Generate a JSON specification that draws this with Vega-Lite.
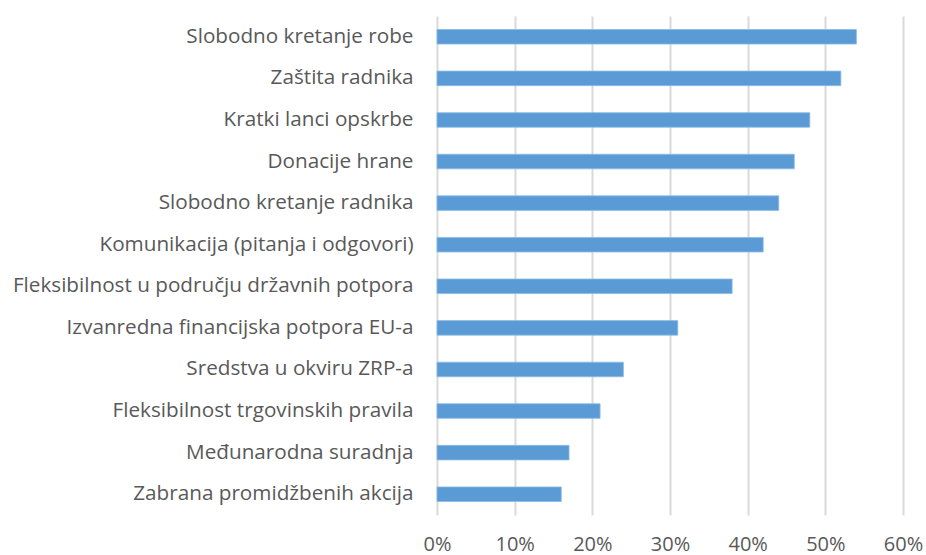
{
  "$schema": "https://vega.github.io/schema/vega-lite/v6.json",
  "width": 466,
  "height": 499,
  "autosize": {"type": "none"},
  "padding": {"left": 437, "top": 16, "right": 23, "bottom": 40},
  "background": "white",
  "data": {
    "values": [
      {"kategorija": "Slobodno kretanje robe", "udio": 0.54},
      {"kategorija": "Zaštita radnika", "udio": 0.52},
      {"kategorija": "Kratki lanci opskrbe", "udio": 0.48},
      {"kategorija": "Donacije hrane ", "udio": 0.46},
      {"kategorija": "Slobodno kretanje radnika", "udio": 0.44},
      {"kategorija": "Komunikacija (pitanja i odgovori)", "udio": 0.42},
      {"kategorija": "Fleksibilnost u području državnih potpora", "udio": 0.38},
      {"kategorija": "Izvanredna financijska potpora EU-a", "udio": 0.31},
      {"kategorija": "Sredstva u okviru ZRP-a", "udio": 0.24},
      {"kategorija": "Fleksibilnost trgovinskih pravila", "udio": 0.21},
      {"kategorija": "Međunarodna suradnja", "udio": 0.17},
      {"kategorija": "Zabrana promidžbenih akcija", "udio": 0.16}
    ]
  },
  "config": {
    "view": {"stroke": null},
    "font": "Open Sans"
  },
  "mark": {"type": "bar", "color": "#5b9bd5", "stroke": "#8cbbe6", "strokeWidth": 0.8},
  "encoding": {
    "y": {
      "field": "kategorija",
      "type": "nominal",
      "sort": null,
      "scale": {"paddingInner": 0.65, "paddingOuter": 0.325},
      "axis": {
        "title": null,
        "ticks": false,
        "domain": false,
        "labelFont": "Open Sans",
        "labelFontSize": 20.7,
        "labelColor": "#595959",
        "labelPadding": 24,
        "labelLimit": 500
      }
    },
    "x": {
      "field": "udio",
      "type": "quantitative",
      "scale": {"domain": [0, 0.6], "nice": false},
      "axis": {
        "title": null,
        "format": ".0%",
        "values": [0, 0.1, 0.2, 0.3, 0.4, 0.5, 0.6],
        "ticks": false,
        "domain": false,
        "grid": true,
        "gridColor": "#d9d9d9",
        "gridWidth": 2,
        "labelFont": "Open Sans",
        "labelFontSize": 20,
        "labelColor": "#595959",
        "labelPadding": 19,
        "labelFlush": false
      }
    }
  }
}
